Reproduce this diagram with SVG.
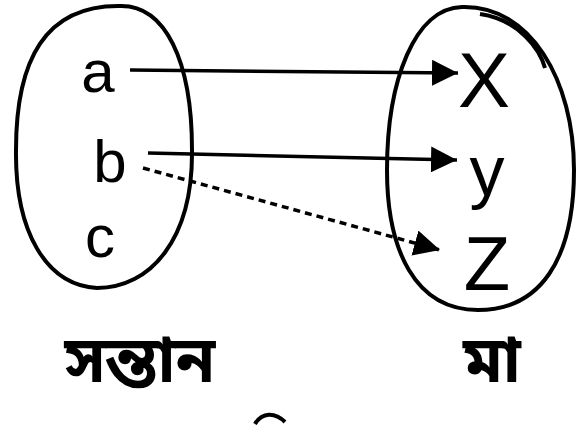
<svg xmlns="http://www.w3.org/2000/svg" width="576" height="436" viewBox="0 0 576 436">
<style>
.set{fill:none;stroke:#000;stroke-width:4}
.lt{font-family:"Liberation Sans",sans-serif;fill:#000;text-anchor:middle}
.bn{font-family:"Noto Sans Bengali","Noto Sans",sans-serif;fill:#000;text-anchor:middle;font-size:64px;font-weight:bold}
.ln{stroke:#000;stroke-width:3.5;fill:none}
</style>
<defs>
<marker id="ah2" viewBox="0 0 10 10" refX="10" refY="5" markerWidth="26" markerHeight="26" markerUnits="userSpaceOnUse" orient="auto">
<path d="M0,0 L10,5 L0,10 Z" fill="#000"/>
</marker>
</defs>
<g id="domain">
<path class="set" d="M120,6 C165,5 192,60 192,150 C193,240 150,288 97,288 C45,285 15,230 16,150 C16,60 45,5 120,6 Z"/>
<text class="lt" x="98" y="92" font-size="60">a</text>
<text class="lt" x="110" y="182" font-size="60">b</text>
<text class="lt" x="100" y="257" font-size="60">c</text>
<text class="bn" x="140" y="382">সন্তান</text>
</g>
<g id="codomain">
<path class="set" d="M462,7 C530,5 574,80 574,170 C574,260 540,310 478,310 C415,310 387,250 387,170 C387,80 415,8 462,7 Z"/>
<path class="set" d="M480,14 C520,20 540,50 545,68" stroke-width="3"/>
<text class="lt" x="484" y="107" font-size="78">X</text>
<text class="lt" x="487" y="195" font-size="70">y</text>
<text class="lt" x="487" y="290" font-size="76">Z</text>
<text class="bn" x="492" y="382">মা</text>
</g>
<g id="connectors">
<line class="ln" x1="130" y1="70" x2="458" y2="73" marker-end="url(#ah2)"/>
<line class="ln" x1="148" y1="153" x2="457" y2="160" marker-end="url(#ah2)"/>
<line class="ln" x1="143" y1="168" x2="440" y2="250" stroke-dasharray="7,5" marker-end="url(#ah2)"/>
</g>
<path d="M255,424 C262,412 275,412 285,422" fill="none" stroke="#000" stroke-width="4"/>
</svg>
